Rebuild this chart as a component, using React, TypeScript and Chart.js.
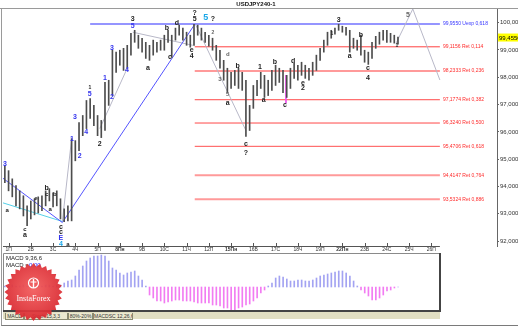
import React, { useEffect, useRef } from "react";
import { Chart, registerables } from "chart.js";

Chart.register(...registerables);

const FONT = '"Liberation Sans", "DejaVu Sans", Arial, sans-serif';

// ---- price bars (4H), index = bar number ----
const BAR_HIGH = [
  94.76, 94.58, 94.28, 94.03, 93.84, 93.66, 93.29, 93.47, 93.55, 93.62,
  93.66, 93.84, 93.92, 93.77, 93.84, 93.55, 93.18, 93.29, 95.75, 95.68,
  96.34, 96.6, 97.15, 97.22, 96.97, 96.6, 96.42, 97.81, 97.89, 98.99,
  98.92, 98.99, 99.06, 99.17, 99.61, 99.72, 99.54, 99.43, 99.28, 99.17,
  99.36, 99.28, 99.36, 99.54, 99.72, 99.54, 99.8, 99.91, 99.8, 99.65,
  99.54, 99.94, 99.91, 99.8, 99.65, 99.54, 99.43, 99.17, 98.99, 98.62,
  98.33, 98.18, 98.25, 98.33, 98.18, 97.89, 96.97, 97.7, 97.89, 98.18,
  98.07, 97.89, 98.25, 98.44, 98.33, 98.25, 98.07, 98.33, 98.51, 98.44,
  98.55, 98.44, 98.33, 98.55, 98.81, 99.06, 99.36, 99.65, 99.72, 99.8,
  99.94, 99.87, 99.83, 99.72, 99.43, 99.36, 99.54, 98.99, 98.92, 99.28,
  99.5, 99.65, 99.72, 99.72, 99.61, 99.54, 99.47,
];
const BAR_LOW = [
  94.14, 93.84, 93.62, 93.29, 93.18, 92.92, 92.56, 92.81, 92.96, 93.03,
  93.11, 93.29, 93.47, 93.25, 93.29, 92.81, 92.71, 92.74, 92.74, 94.94,
  95.31, 95.86, 96.12, 96.49, 96.23, 95.86, 95.79, 96.05, 96.97, 97.33,
  98.18, 98.44, 98.25, 98.33, 98.81, 99.28, 99.06, 98.92, 98.69, 98.62,
  98.81, 98.92, 98.99, 98.99, 99.28, 98.73, 99.36, 99.54, 99.36, 99.17,
  99.1, 99.17, 99.54, 99.36, 99.28, 99.14, 98.99, 98.62, 98.33, 97.89,
  97.44, 97.59, 97.7, 97.59, 97.52, 95.83, 96.05, 96.86, 97.33, 97.59,
  97.26, 97.33, 97.52, 97.7, 97.81, 97.44, 97.26, 97.59, 97.96, 97.89,
  98.07, 97.96, 97.89, 98.07, 98.25, 98.62, 98.92, 99.17, 99.43, 99.58,
  99.72, 99.65, 99.54, 98.92, 99.06, 98.99, 98.81, 98.55, 98.47, 98.69,
  99.06, 99.21, 99.36, 99.28, 99.28, 99.25, 99.21,
];

// ---- MACD histogram per bar ----
const MACD_HIST = [
  0.01, 0.01, 0.02, 0.01, 0.01, 0.02, 0.01, 0.01, 0.02, 0.02, 0.01, 0.02, 0.02, 0.01, 0.02, 0.02,
  0.04, 0.06, 0.07, 0.11, 0.17, 0.21, 0.26, 0.29, 0.31, 0.31, 0.32, 0.31, 0.26, 0.19, 0.17, 0.14,
  0.12, 0.14, 0.15, 0.16, 0.11, 0.07, 0.01,
  -0.08, -0.11, -0.14, -0.14, -0.16, -0.15, -0.14, -0.13, -0.13, -0.14, -0.14, -0.14, -0.15,
  -0.16, -0.16, -0.16, -0.16, -0.18, -0.18, -0.19, -0.21, -0.21, -0.23, -0.23, -0.21, -0.2,
  -0.18, -0.17, -0.14, -0.11, -0.06, -0.03, 0.01,
  0.04, 0.09, 0.11, 0.1, 0.08, 0.06, 0.06, 0.07, 0.07, 0.06, 0.06, 0.07, 0.09, 0.11, 0.12, 0.13,
  0.14, 0.15, 0.16, 0.16, 0.14, 0.11, 0.06, 0.01,
  -0.03, -0.06, -0.09, -0.13, -0.13, -0.11, -0.08, -0.04, -0.03, -0.01, 0.0,
];

// ---- axes ----
const PRICE_TICKS = [92, 93, 94, 95, 96, 97, 98, 99, 100];
const DAY_TICKS = [1, 7, 13, 19, 25, 31, 37, 43, 49, 55, 61, 67, 73, 79, 85, 91, 97, 103, 109, 115];
const DAY_LABELS = [
  "1П", "2В", "3С", "4Ч", "5П", "8Пн", "9В", "10С", "11Ч", "12П",
  "15Пн", "16В", "17С", "18Ч", "19П", "22Пн", "23В", "24С", "25Ч", "26П",
];
const WEEK_START_TICKS = [5, 10, 15];
const X_MIN = -0.5;
const X_MAX_MAIN = 132.7;
const X_MAX_MACD = 117.56;
const X_AXIS_END = 117.3;

// ---- Fibonacci levels ----
const FIB_LEVELS = [99.955, 99.1156, 98.2333, 97.1774, 96.324, 95.4706, 94.4147, 93.5324];
const FIB_NAMES = ["Uexp 0,618", "Ret 0,114", "Ret 0,236", "Ret 0,382", "Ret 0,500", "Ret 0,618", "Ret 0,764", "Ret 0,886"];
const FIB_FROM = [23, 51.2, 51.2, 51.2, 51.2, 51.2, 51.2, 51.2];
const FIB_TO = 117.3;
const FIB_COLORS = ["#7272ff", "#ff4040", "#ff9a9a", "#ff4848", "#ff4848", "#ff5050", "#ff9a9a", "#ff9a9a"];
const FIB_WIDTHS = [1.5, 1, 2, 1, 1, 1, 2, 2];
const FIB_TEXT_COLORS = ["#3535ff", "#ff2a2a", "#ff2a2a", "#ff2a2a", "#ff2a2a", "#ff2a2a", "#ff2a2a", "#ff2a2a"];
const CURRENT_PRICE = 99.455;

// ---- wave lines ----
const BLUE_LINE: [number, number][] = [[-0.5, 94.3], [15.5, 92.68], [51.2, 99.94]];
const CYAN_LINE: [number, number][] = [[-0.5, 93.4], [15.5, 92.72]];
const GRAY_LINES: [number, number][][] = [
  [[15.5, 92.72], [18, 95.75]],
  [[25.6, 96.12], [33, 98.33]],
  [[34.5, 99.65], [50.7, 99.17]],
  [[51.5, 99.91], [65, 96.05]],
  [[105.5, 99.25], [110, 100.5], [117.3, 97.9]],
];
const MAGENTA_LINE: [number, number][] = [[75.8, 98.08], [75.8, 97.05]];

// ---- wave labels: text, bar index, price, colour key, size ----
const WAVE_LABELS: [string, number, number, string, number][] = [
  ["3", 34.5, 100.13, "k", 7], ["5", 34.5, 99.87, "b", 7], ["3", 28.9, 99.06, "b", 7],
  ["4", 32.9, 98.25, "b", 7], ["1", 27, 97.96, "b", 7], ["2", 28.9, 97.26, "b", 7],
  ["5", 22.9, 97.37, "b", 7], ["1", 22.9, 97.63, "k", 5], ["a", 38.6, 98.33, "k", 7],
  ["b", 43.7, 99.8, "k", 7], ["c", 44.5, 98.73, "k", 7], ["d", 46.4, 99.98, "k", 7],
  ["e", 50.4, 98.99, "k", 7], ["4", 50.4, 98.77, "k", 7], ["?", 51.2, 100.35, "k", 7],
  ["5", 51.2, 100.13, "k", 7], ["5", 54.2, 100.17, "c", 9], ["?", 56.1, 100.13, "k", 7],
  ["2", 56.1, 99.65, "g", 5], ["d", 60.1, 98.85, "g", 6], ["b", 62.8, 98.4, "k", 7],
  ["3", 58, 97.92, "g", 6], ["5", 60.1, 97.37, "g", 6], ["a", 60.1, 97.04, "k", 7],
  ["c", 65, 95.57, "k", 7], ["?", 65, 95.24, "k", 7], ["3", 0, 94.83, "b", 7],
  ["a", 0.6, 93.11, "k", 6], ["c", 5.4, 92.44, "k", 6], ["a", 5.4, 92.22, "k", 7],
  ["e", 8.4, 93.58, "k", 6], ["b", 11.3, 93.95, "k", 7], ["c", 11.3, 93.73, "k", 6],
  ["a", 12.2, 93.18, "k", 6], ["b", 13.5, 93.73, "k", 6], ["c", 15.1, 92.52, "k", 7],
  ["c", 15.1, 92.33, "k", 7], ["E", 15.1, 92.11, "b", 7], ["4", 15.1, 91.88, "c", 7],
  ["a", 17, 91.89, "k", 6], ["1", 18.1, 95.72, "b", 7], ["2", 20.2, 95.13, "b", 7],
  ["3", 18.9, 96.53, "b", 7], ["4", 21.9, 96.01, "b", 7], ["2", 25.6, 95.57, "k", 7],
  ["1", 68.8, 98.36, "k", 7], ["a", 69.8, 97.15, "k", 7], ["b", 72.8, 98.55, "k", 7],
  ["c", 75.5, 97.0, "k", 7], ["d", 77.7, 98.58, "k", 7], ["e", 80.4, 97.78, "k", 7],
  ["2", 80.4, 97.59, "k", 7], ["1", 88.2, 99.61, "k", 5], ["3", 90, 100.09, "k", 7],
  ["a", 93, 98.77, "k", 7], ["b", 96, 99.54, "k", 7], ["c", 97.9, 98.33, "k", 7],
  ["4", 97.9, 97.96, "k", 7], ["1", 105.7, 99.17, "k", 5], ["5", 108.7, 100.28, "g", 7],
];
const WAVE_COLORS: Record<string, string> = { k: "#222222", b: "#3333ee", c: "#1aa7e8", g: "#666666" };

const fmt = (v: number) => v.toFixed(4).replace(".", ",");

const lineDs = (pts: [number, number][], color: string, width: number) => ({
  type: "line" as const,
  data: pts.map(([x, y]) => ({ x, y })),
  borderColor: color,
  borderWidth: width,
  pointRadius: 0,
  fill: false,
  tension: 0,
  order: 2,
});

const mainOverlay = {
  id: "mainOverlay",
  afterDatasetsDraw(chart: any) {
    const { ctx, scales, chartArea } = chart;
    const x = scales.x;
    const y = scales.y;
    ctx.save();
    ctx.strokeStyle = "#555";
    ctx.lineWidth = 1;
    ctx.beginPath();
    ctx.moveTo(chartArea.left, chartArea.bottom + 0.5);
    ctx.lineTo(x.getPixelForValue(X_AXIS_END), chartArea.bottom + 0.5);
    DAY_TICKS.forEach((d) => {
      const px = Math.round(x.getPixelForValue(d)) + 0.5;
      ctx.moveTo(px, chartArea.bottom - 3);
      ctx.lineTo(px, chartArea.bottom);
    });
    ctx.stroke();
    ctx.strokeStyle = "#9a9a9a";
    ctx.beginPath();
    ctx.moveTo(0, chartArea.top - 0.5);
    ctx.lineTo(chart.width, chartArea.top - 0.5);
    ctx.stroke();
    ctx.font = `5px ${FONT}`;
    ctx.textAlign = "left";
    ctx.textBaseline = "middle";
    FIB_LEVELS.forEach((lvl, k) => {
      ctx.fillStyle = FIB_TEXT_COLORS[k];
      ctx.fillText(`${fmt(lvl)} ${FIB_NAMES[k]}`, x.getPixelForValue(FIB_TO) + 3, y.getPixelForValue(lvl));
    });
    ctx.textAlign = "center";
    WAVE_LABELS.forEach(([t, i, p, c, s]) => {
      ctx.font = `bold ${s}px ${FONT}`;
      ctx.fillStyle = WAVE_COLORS[c];
      ctx.fillText(t, x.getPixelForValue(i), y.getPixelForValue(p));
    });
    const py = y.getPixelForValue(CURRENT_PRICE);
    ctx.fillStyle = "#ffff00";
    ctx.fillRect(chartArea.right + 1, py - 4, 30, 8);
    ctx.fillStyle = "#000";
    ctx.font = `6px ${FONT}`;
    ctx.textAlign = "left";
    ctx.fillText(fmt(CURRENT_PRICE), chartArea.right + 2, py + 0.5);
    ctx.font = `bold 6px ${FONT}`;
    ctx.textAlign = "center";
    ctx.fillStyle = "#111";
    ctx.fillText("USDJPY240-1", 256, 4.5);
    ctx.restore();
  },
};

const macdOverlay = {
  id: "macdOverlay",
  afterDatasetsDraw(chart: any) {
    const { ctx, chartArea } = chart;
    ctx.save();
    ctx.strokeStyle = "#8a8a8a";
    ctx.lineWidth = 1;
    ctx.beginPath();
    ctx.moveTo(chartArea.left + 0.5, chartArea.bottom);
    ctx.lineTo(chartArea.left + 0.5, chartArea.top + 0.5);
    ctx.lineTo(chartArea.right - 1, chartArea.top + 0.5);
    ctx.stroke();
    ctx.strokeStyle = "#444";
    ctx.lineWidth = 2;
    ctx.beginPath();
    ctx.moveTo(chartArea.right - 1, chartArea.top);
    ctx.lineTo(chartArea.right - 1, chartArea.bottom - 1);
    ctx.lineTo(chartArea.left, chartArea.bottom - 1);
    ctx.stroke();
    ctx.font = `6px ${FONT}`;
    ctx.textAlign = "left";
    ctx.textBaseline = "middle";
    ctx.fillStyle = "#222";
    ctx.fillText("MACD 9,36,6", chartArea.left + 3, 5);
    ctx.fillText("MACD =", chartArea.left + 3, 12);
    ctx.fillStyle = "#2a2aff";
    ctx.fillText("0,00", chartArea.left + 26, 12);
    ctx.restore();
  },
};

export default function App() {
  const mainRef = useRef<HTMLCanvasElement>(null);
  const macdRef = useRef<HTMLCanvasElement>(null);

  useEffect(() => {
    document.body.style.margin = "0";
    const charts: Chart[] = [];
    if (mainRef.current) {
      const datasets: any[] = [
        {
          type: "bar",
          data: BAR_HIGH.map((h, i) => ({ x: i, y: [BAR_LOW[i], h] })),
          backgroundColor: "#4d4d4d",
          barThickness: 1,
          order: 0,
        },
        ...FIB_LEVELS.map((lvl, k) => ({
          ...lineDs([[FIB_FROM[k], lvl], [FIB_TO, lvl]], FIB_COLORS[k], FIB_WIDTHS[k]),
          order: 3,
        })),
        lineDs(BLUE_LINE, "#5555ff", 1),
        lineDs(CYAN_LINE, "#55d0e8", 1),
        ...GRAY_LINES.map((g) => lineDs(g, "#b8b8c8", 1)),
        lineDs(MAGENTA_LINE, "#ee55ee", 1),
      ];
      charts.push(
        new Chart(mainRef.current, {
          type: "bar",
          data: { datasets },
          options: {
            animation: false,
            responsive: false,
            maintainAspectRatio: false,
            layout: { padding: { left: 3, top: 9, right: 0, bottom: 0 } },
            plugins: { legend: { display: false }, tooltip: { enabled: false }, title: { display: false } },
            scales: {
              x: {
                type: "linear",
                min: X_MIN,
                max: X_MAX_MAIN,
                offset: false,
                afterBuildTicks: (s: any) => {
                  s.ticks = DAY_TICKS.map((v) => ({ value: v }));
                },
                afterFit: (s: any) => {
                  s.height = 10;
                },
                ticks: {
                  autoSkip: false,
                  maxRotation: 0,
                  minRotation: 0,
                  padding: 1,
                  color: "#333",
                  font: (c: any) => ({
                    size: 5,
                    family: FONT,
                    weight: WEEK_START_TICKS.includes(c.index) ? "bold" : "normal",
                  }),
                  callback: (_v: any, idx: number) => DAY_LABELS[idx],
                },
                grid: { display: true, drawOnChartArea: false, drawTicks: false, offset: false },
                border: { display: false },
              },
              y: {
                position: "right",
                min: 91.82,
                max: 100.5,
                beginAtZero: false,
                afterBuildTicks: (s: any) => {
                  s.ticks = PRICE_TICKS.map((v) => ({ value: v }));
                },
                afterFit: (s: any) => {
                  s.width = 21;
                },
                ticks: {
                  padding: 1,
                  color: "#333",
                  font: { size: 6, family: FONT },
                  callback: (v: any) => fmt(Number(v)),
                },
                grid: { drawOnChartArea: false, tickLength: 2, color: "#666" },
                border: { display: true, color: "#666" },
              },
            },
          },
          plugins: [mainOverlay],
        } as any)
      );
    }
    if (macdRef.current) {
      charts.push(
        new Chart(macdRef.current, {
          type: "bar",
          data: {
            datasets: [
              {
                data: MACD_HIST.map((v, i) => ({ x: i, y: v })),
                backgroundColor: MACD_HIST.map((v) => (v >= 0 ? "#a3a3f2" : "#f27cf2")),
                barThickness: 1,
              },
            ],
          },
          options: {
            animation: false,
            responsive: false,
            maintainAspectRatio: false,
            layout: { padding: { left: 3, top: 0, right: 0, bottom: 0 } },
            plugins: { legend: { display: false }, tooltip: { enabled: false } },
            scales: {
              x: { type: "linear", display: false, min: X_MIN, max: X_MAX_MACD, offset: false },
              y: { display: false, min: -0.25, max: 0.34 },
            },
          },
          plugins: [macdOverlay],
        } as any)
      );
    }
    return () => charts.forEach((c) => c.destroy());
  }, []);

  const star: string[] = [];
  for (let k = 0; k < 56; k++) {
    const r = k % 2 ? 25.5 : 29;
    const a = (k * Math.PI) / 28;
    star.push(`${(33.5 + r * Math.cos(a)).toFixed(1)},${(292 + r * Math.sin(a)).toFixed(1)}`);
  }

  const tab = (text: string, left: number, width: number) => (
    <div
      style={{
        position: "absolute",
        left,
        top: 313,
        width,
        height: 6,
        border: "1px solid #8a8a70",
        borderTop: "none",
        fontSize: 5,
        lineHeight: "6px",
        fontFamily: FONT,
        color: "#333",
        textAlign: "center",
        whiteSpace: "nowrap",
        overflow: "hidden",
        background: "#ebe8cf",
      }}
    >
      {text}
    </div>
  );

  return (
    <div style={{ position: "relative", width: 518, height: 327, background: "#ffffff", overflow: "hidden" }}>
      <canvas ref={mainRef} width={518} height={256} style={{ position: "absolute", left: 0, top: 0, width: 518, height: 256 }} />
      <canvas ref={macdRef} width={441} height={59} style={{ position: "absolute", left: 0, top: 253, width: 441, height: 59 }} />
      <div style={{ position: "absolute", left: 3, top: 312, width: 437, height: 7, background: "#e2dfc2" }} />
      {tab("MACD", 5, 17)}
      {tab("Stoch 15,3,3", 24, 42)}
      {tab("80%-20%", 68, 23)}
      {tab("MACDSC 12,26,6", 93, 38)}
      <div
        style={{
          position: "absolute",
          left: 1,
          top: 9,
          width: 517,
          height: 316,
          borderLeft: "1px solid #9a9a9a",
          borderBottom: "1px solid #7a7a7a",
          pointerEvents: "none",
        }}
      />
      <svg width={518} height={327} style={{ position: "absolute", left: 0, top: 0, pointerEvents: "none" }}>
        <defs>
          <radialGradient id="lg" cx="50%" cy="45%" r="55%">
            <stop offset="0%" stopColor="#f25a5a" />
            <stop offset="100%" stopColor="#d8262e" />
          </radialGradient>
        </defs>
        <polygon points={star.join(" ")} fill="url(#lg)" opacity={0.93} />
        <circle cx={33.5} cy={283} r={5} fill="none" stroke="#ffffff" strokeWidth={1.2} />
        <line x1={33.5} y1={279} x2={33.5} y2={288} stroke="#ffffff" strokeWidth={1.4} />
        <line x1={30.5} y1={282} x2={36.5} y2={282} stroke="#ffffff" strokeWidth={1} />
        <text x={33.5} y={301} textAnchor="middle" fill="#ffffff" fontSize={8} fontFamily='"Liberation Serif", serif'>
          InstaForex
        </text>
      </svg>
    </div>
  );
}
